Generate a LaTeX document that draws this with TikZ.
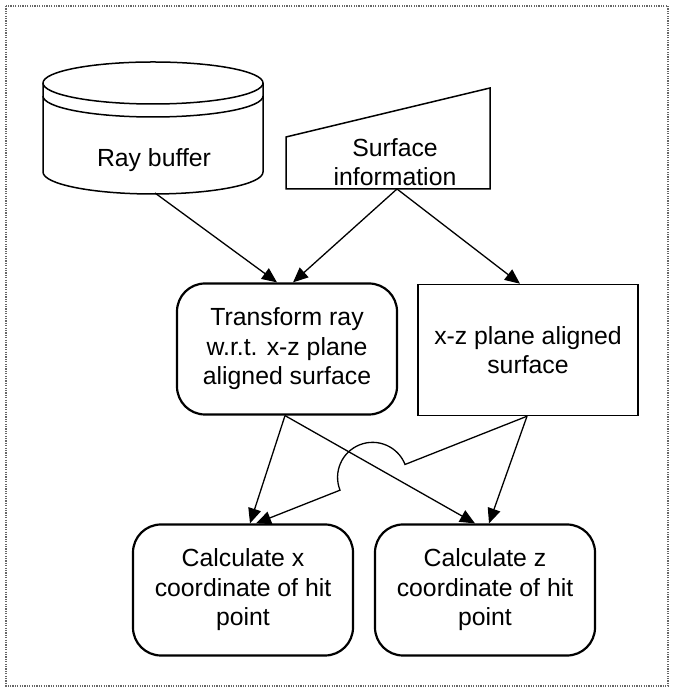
\documentclass[tikz,border=0pt]{standalone}
\usepackage{fontspec}
\setmainfont{Liberation Sans}
\usetikzlibrary{arrows.meta,calc}

\tikzset{
  txt/.style={font=\fontsize{24.8}{29.5}\selectfont, align=center, inner sep=0pt},
  roundbox/.style={txt, draw, line width=2.2pt, rounded corners=28pt,
    minimum width=220pt, minimum height=131pt},
  plainbox/.style={txt, draw, line width=1.5pt,
    minimum width=220pt, minimum height=131pt},
  outline/.style={line width=1.5pt},
  arr/.style={line width=1.3pt, -{Triangle[length=15pt,width=13pt]}},
  frame/.style={gray!80!black, line width=1.3pt, dash pattern=on 1.2pt off 1.2pt}
}

\begin{document}
\begin{tikzpicture}[x=1pt,y=1pt]
  \useasboundingbox (0,0) rectangle (673,700);

  % dotted outer frame
  \draw[frame] (6,694) rectangle (668,14);

  % ray buffer (drum with a ring below the lid)
  \draw[outline] (43,617) arc[start angle=180, end angle=-180, x radius=110, y radius=21];
  \draw[outline] (43,604) arc[start angle=180, end angle=360, x radius=110, y radius=21];
  \draw[outline] (43,617) -- (43,528)
    arc[start angle=180, end angle=360, x radius=110, y radius=22]
    -- (263,617);
  \node[txt] (rb) at (154,540) {Ray buffer};
  \coordinate (rbB) at (155,507);

  % surface information (manual input shape)
  \draw[outline] (286,511) -- (286,563) -- (490,612) -- (490,511) -- cycle;
  \node[txt] (si) at (395,538) {Surface\\information};
  \coordinate (siB) at (397,511);

  % processing steps
  \node[roundbox] (tr) at (287,351) {Transform ray\\w.r.t. x-z plane\\aligned surface};
  \node[plainbox] (xz) at (528,350) {x-z plane aligned\\surface};
  \node[roundbox] (cx) at (243,110) {Calculate x\\coordinate of hit\\point};
  \node[roundbox] (cz) at (485,110) {Calculate z\\coordinate of hit\\point};

  % connector end points
  \coordinate (trN1) at ($(tr.north)+(-10,0)$);
  \coordinate (trN2) at ($(tr.north)+(6,0)$);
  \coordinate (xzN) at ($(xz.north)+(-8,0)$);
  \coordinate (trS) at ($(tr.south)+(-2,0)$);
  \coordinate (xzS) at ($(xz.south)+(-1,0)$);
  \coordinate (cxN1) at ($(cx.north)+(7,0)$);
  \coordinate (cxN2) at ($(cx.north)+(13,0)$);
  \coordinate (czN1) at ($(cz.north)+(-10,0)$);
  \coordinate (czN2) at ($(cz.north)+(4,0)$);

  % connectors
  \draw[arr] (rbB) -- (trN1);
  \draw[arr] (siB) -- (trN2);
  \draw[arr] (siB) -- (xzN);
  \draw[arr] (trS) -- (cxN1);
  \draw[arr] (trS) -- (czN1);
  \draw[arr] (xzS) -- (czN2);
  % this one hops over the crossing connector
  \draw[arr] let \p1=(xzS), \p2=(cxN2),
      \n1={atan2(\y2-\y1,\x2-\x1)},
      \n2={0.12*veclen(\x2-\x1,\y2-\y1)} in
    (xzS) -- ($(xzS)!0.45!(cxN2)$)
    arc[start angle=\n1-180, end angle=\n1, radius=\n2]
    -- (cxN2);
\end{tikzpicture}
\end{document}
